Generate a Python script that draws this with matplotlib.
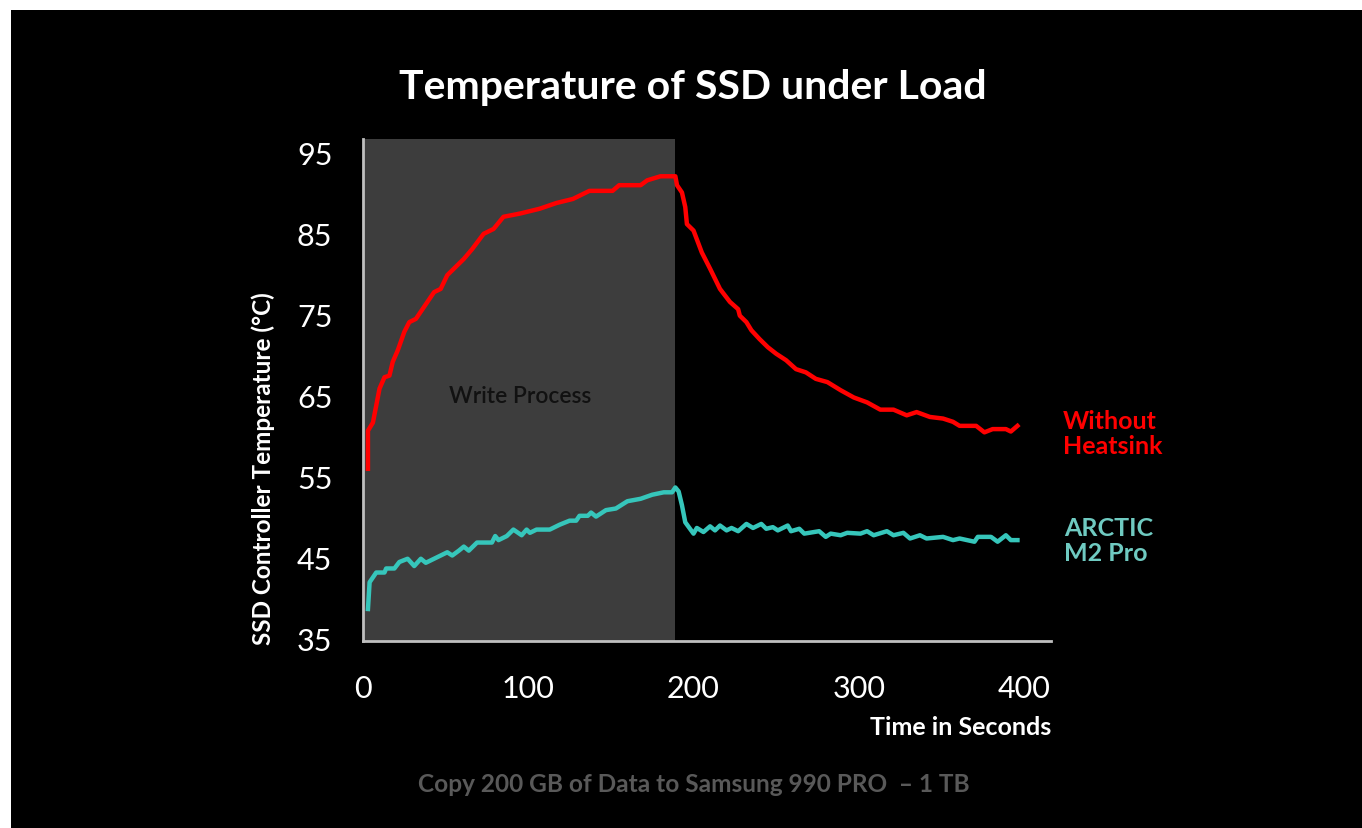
import matplotlib
matplotlib.use("Agg")
import matplotlib.pyplot as plt
from matplotlib.patches import Rectangle

plt.rcParams['font.family'] = ['Lato', 'DejaVu Sans']

# ---- data ----
t_red = [3, 3, 6, 10, 13, 16, 18, 21, 25, 28, 32, 37, 43, 47, 51, 57, 61, 66, 73, 79, 85,
         95, 107, 117, 127, 137, 151, 155, 168, 172, 180, 189, 190, 193, 195, 196, 200,
         205, 210, 216, 222, 227, 228, 232, 235, 240, 245, 250, 256, 262, 268, 274, 281,
         289, 297, 305, 313, 321, 329, 335, 343, 351, 357, 361, 371, 376, 381, 389, 392, 396]
temp_red = [56.0, 60.7, 61.7, 65.9, 67.3, 67.5, 69.2, 70.6, 72.9, 74.1, 74.5, 76.0, 77.8,
            78.2, 79.9, 81.1, 81.9, 83.1, 85.0, 85.6, 87.1, 87.5, 88.1, 88.8, 89.3, 90.3,
            90.3, 91.0, 91.0, 91.6, 92.1, 92.1, 91.0, 90.1, 88.3, 86.2, 85.4, 82.7, 80.7,
            78.2, 76.6, 75.7, 74.9, 74.1, 73.1, 72.0, 71.0, 70.2, 69.4, 68.3, 67.9, 67.1,
            66.7, 65.7, 64.8, 64.2, 63.3, 63.3, 62.6, 63.0, 62.4, 62.2, 61.8, 61.3, 61.3,
            60.5, 60.9, 60.9, 60.6, 61.3]

t_arctic = [3, 4, 8, 13, 14, 19, 22, 27, 31, 35, 38, 45, 51, 54, 58, 61, 64, 69, 78, 80, 82,
            87, 91, 96, 99, 101, 105, 113, 119, 125, 129, 131, 136, 138, 141, 147, 153, 160,
            168, 175, 182, 187, 189, 191, 193, 195, 200, 202, 206, 210, 213, 216, 220, 223,
            227, 232, 236, 241, 244, 248, 251, 257, 259, 264, 267, 276, 280, 283, 289, 293,
            301, 305, 309, 317, 321, 327, 331, 337, 341, 351, 357, 361, 370, 372, 380, 384,
            389, 392, 396]
temp_arctic = [38.7, 42.0, 43.2, 43.2, 43.7, 43.7, 44.5, 44.9, 44.0, 44.9, 44.4, 45.1, 45.7,
               45.3, 45.9, 46.4, 45.9, 46.9, 46.9, 47.7, 47.2, 47.7, 48.5, 47.8, 48.5, 48.1,
               48.5, 48.5, 49.1, 49.6, 49.6, 50.2, 50.2, 50.6, 50.1, 50.9, 51.1, 52.0, 52.3,
               52.8, 53.1, 53.1, 53.7, 53.2, 51.5, 49.4, 48.0, 48.7, 48.2, 48.9, 48.4, 49.0,
               48.4, 48.7, 48.3, 49.2, 48.7, 49.2, 48.6, 48.8, 48.4, 49.0, 48.3, 48.6, 48.0,
               48.3, 47.6, 48.0, 47.8, 48.1, 48.0, 48.3, 47.8, 48.3, 47.8, 48.1, 47.4, 47.8,
               47.4, 47.6, 47.2, 47.4, 47.0, 47.6, 47.6, 47.0, 47.8, 47.2, 47.2]

write_start, write_end = 0, 189
x_ticks = [0, 100, 200, 300, 400]
y_ticks = [35, 45, 55, 65, 75, 85, 95]

# ---- figure ----
W, H = 1362, 829
fig = plt.figure(figsize=(W / 100, H / 100), dpi=100, facecolor='white')
fig.patches.append(Rectangle((11 / W, 0), 1 - 11 / W, 1 - 11 / H, transform=fig.transFigure,
                             facecolor='black', edgecolor='none', zorder=-10))

ax = fig.add_axes([363 / W, 1 - 642 / H, (1051 - 363) / W, (642 - 140) / H])
ax.set_zorder(1)
ax.set_facecolor('black')
ax.set_xlim(0, 416.3)
ax.set_ylim(34.75, 96.7)

ax.axvspan(write_start, write_end, color='#3d3d3d', zorder=1, lw=0)
ax.plot(t_red, temp_red, color='#ff0000', lw=3.2, zorder=3, solid_joinstyle='round')
ax.plot(t_arctic, temp_arctic, color='#36c6bb', lw=3.2, zorder=3, solid_joinstyle='round')

for s in ['top', 'right']:
    ax.spines[s].set_visible(False)
for s in ['left', 'bottom']:
    ax.spines[s].set_color('#bfbfbf')
    ax.spines[s].set_linewidth(2)
    ax.spines[s].set_zorder(4)

ax.set_xticks(x_ticks)
ax.set_yticks(y_ticks)
ax.tick_params(length=0, colors='white', labelsize=22)
ax.tick_params(axis='x', pad=24)
ax.tick_params(axis='y', pad=22)
for lab in ax.get_xticklabels() + ax.get_yticklabels():
    lab.set_fontweight('normal')
    lab.set_color('white')

ax.text(95, 65.1, 'Write Process', ha='center', va='center', fontsize=16.4,
        color='#111111', fontweight='semibold', zorder=2)

fig.text(693 / W, 1 - 87 / H, 'Temperature of SSD under Load', ha='center', va='center',
         fontsize=29.5, fontweight='bold', color='white')
fig.text(263 / W, 1 - 469 / H, 'SSD Controller Temperature (°C)', ha='center', va='center',
         rotation=90, fontsize=17.5, fontweight='bold', color='white')
fig.text(1051 / W, 1 - 728 / H, 'Time in Seconds', ha='right', va='center',
         fontsize=18, fontweight='bold', color='white')
fig.text(694 / W, 1 - 785 / H, 'Copy 200 GB of Data to Samsung 990 PRO  – 1 TB', ha='center',
         va='center', fontsize=17.6, fontweight='bold', color='#595959')
fig.text(1063 / W, 1 - 434 / H, 'Without\nHeatsink', ha='left', va='center', fontsize=18,
         fontweight='bold', color='#ff0000', linespacing=1.12)
fig.text(1064 / W, 1 - 541 / H, 'ARCTIC\nM2 Pro', ha='left', va='center', fontsize=18,
         fontweight='bold', color='#6fcac1', linespacing=1.12)

fig.savefig('out.png', dpi=100, facecolor='white')
